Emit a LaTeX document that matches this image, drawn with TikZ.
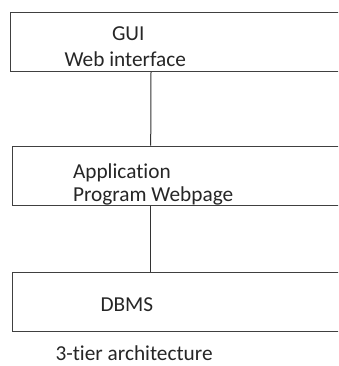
\documentclass[tikz,border=0pt]{standalone}
\usepackage{fontspec}
\setmainfont{Carlito}[Ligatures=NoCommon]
\usetikzlibrary{positioning}

\begin{document}
\begin{tikzpicture}[x=1pt, y=1pt, line width=1pt,
    tier/.style={rectangle, draw=black!75, minimum width=345pt, minimum height=59.5pt, anchor=north west, inner sep=0pt},
    tiertext/.style={anchor=base west, inner sep=0pt, font=\fontsize{21.3}{25}\selectfont, text=black!85}]
  \useasboundingbox (0,0) rectangle (338,366);
  \clip (0,0) rectangle (338,366);

  \node[tier] (gui) at (10.3, 354.3) {};
  \node[tier] (app) at (12, 220.3) {};
  \node[tier] (dbms) at (12, 94.3) {};

  \draw[draw=black!80] ([xshift=140.7pt]gui.south west) -- ([xshift=138.7pt]app.north west);
  \draw[draw=black!80] ([xshift=138pt]app.south west) -- ([xshift=138pt]dbms.north west);

  \node[tiertext] (guiText) at (111.5, 325.3) {GUI};
  \node[tiertext] (webText) at (64, 299.3) {Web interface};
  \node[tiertext] (appText) at (72.5, 187.7) {Application};
  \node[tiertext] (progText) at (72.5, 164.3) {Program Webpage};
  \node[tiertext] (dbmsText) at (100, 54.3) {DBMS};
  \node[tiertext] (caption) at (55, 5.3) {3-tier architecture};
\end{tikzpicture}
\end{document}
